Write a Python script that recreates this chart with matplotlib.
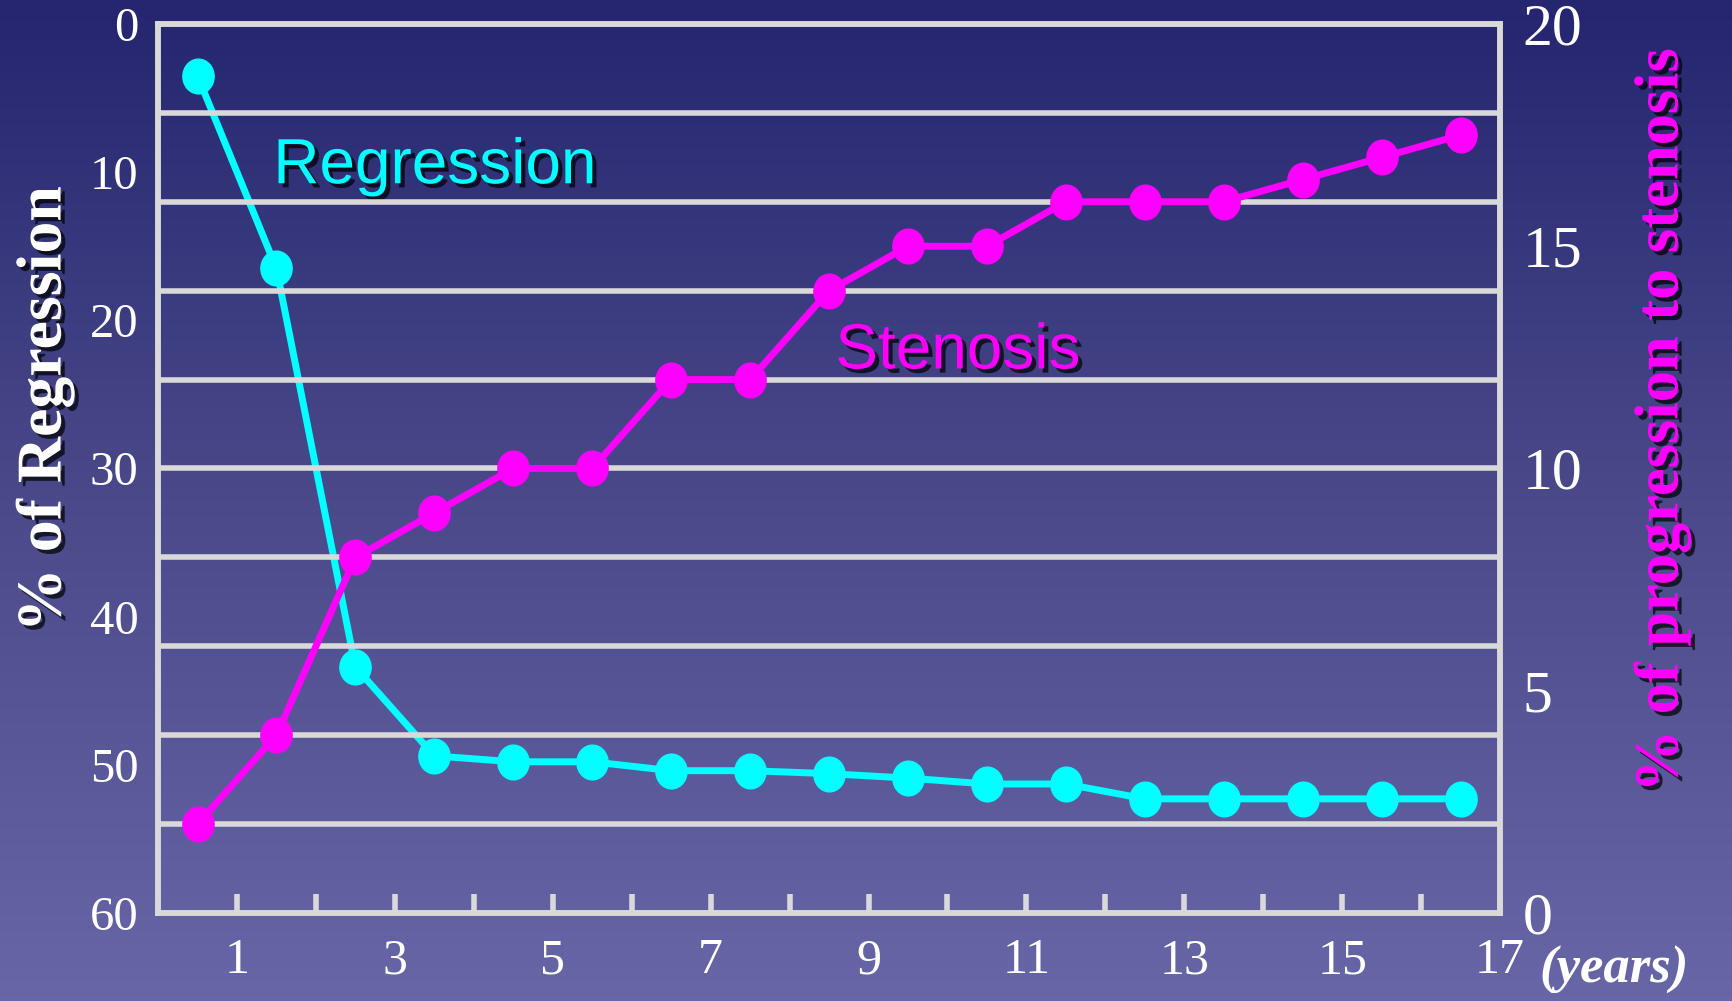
import numpy as np
import matplotlib
matplotlib.use("Agg")
import matplotlib.pyplot as plt
import matplotlib.patheffects as pe
from matplotlib.colors import LinearSegmentedColormap
from matplotlib.path import Path

# Follow-up years (mid-year points)
years = [0.5, 1.5, 2.5, 3.5, 4.5, 5.5, 6.5, 7.5, 8.5, 9.5, 10.5, 11.5, 12.5, 13.5, 14.5, 15.5, 16.5]
# % of regression (left axis, inverted)
regression = [3.5, 16.5, 43.4, 49.4, 49.8, 49.8, 50.4, 50.4, 50.6, 50.9, 51.3, 51.3, 52.3, 52.3, 52.3, 52.3, 52.3]
# % of progression to stenosis (right axis)
stenosis = [2, 4, 8, 9, 10, 10, 12, 12, 14, 15, 15, 16, 16, 16, 16.5, 17, 17.5]

x_ticks = list(range(1, 18))
x_labels = [str(t) if t % 2 == 1 else "" for t in x_ticks]
left_ticks = [0, 10, 20, 30, 40, 50, 60]
right_ticks = [0, 5, 10, 15, 20]

GRID = "#d9d9d9"
CYAN = "#00ffff"
MAGENTA = "#ff00ff"
serif = ["Liberation Serif", "DejaVu Serif"]
sans = ["Liberation Sans", "DejaVu Sans"]

shadow = [pe.SimplePatchShadow(offset=(3, -3), shadow_rgbFace="black", alpha=0.7), pe.Normal()]

# slightly tall ellipse for the data points
circ = Path.unit_circle()
oval = Path(circ.vertices * np.array([0.9, 1.0]), circ.codes)

fig = plt.figure(figsize=(17.33, 10.01), dpi=100)

# Slide background gradient
bg = fig.add_axes([0, 0, 1, 1], zorder=-10)
grad_cmap = LinearSegmentedColormap.from_list("bg", ["#252570", "#4a4a8a", "#6767a8"])
bg.imshow(np.linspace(0, 1, 256).reshape(-1, 1), aspect="auto", cmap=grad_cmap,
          extent=[0, 1, 0, 1])
bg.axis("off")

ax = fig.add_axes([0.0912, 0.088, 0.7744, 0.888])
ax.patch.set_alpha(0)
ax2 = ax.twinx()

ax.set_xlim(0, 17)
ax.set_ylim(60, 0)
ax2.set_ylim(0, 20)

# horizontal grid every 1/10 of the height
for g in np.arange(2, 20, 2):
    ax2.axhline(g, color=GRID, linewidth=4, zorder=1)

for a in (ax, ax2):
    for s in a.spines.values():
        s.set_color(GRID)
        s.set_linewidth(4)

ax.plot(years, regression, color=CYAN, linewidth=5, marker=oval,
        markersize=25, zorder=5)
ax2.plot(years, stenosis, color=MAGENTA, linewidth=5, marker=oval,
         markersize=25, zorder=5)

ax.set_xticks(x_ticks)
ax.set_xticklabels(x_labels, fontfamily=serif, fontsize=36, color="white")
ax.tick_params(axis="x", direction="in", length=14, width=4, color=GRID, pad=18)

ax.set_yticks(left_ticks)
ax.set_yticklabels([str(t) for t in left_ticks], fontfamily=serif, fontsize=35, color="white")
ax.tick_params(axis="y", length=0, pad=14)

ax2.set_yticks(right_ticks)
ax2.set_yticklabels([str(t) for t in right_ticks], fontfamily=serif, fontsize=43, color="white")
ax2.tick_params(axis="y", length=0, pad=16)

fig.text(0.026, 0.591, "% of Regression", rotation=90, ha="center", va="center",
         fontfamily=serif, fontweight="bold", fontsize=46, color="white",
         path_effects=shadow)
fig.text(0.959, 0.58, "% of progression to stenosis", rotation=90, ha="center", va="center",
         fontfamily=serif, fontweight="bold", fontsize=45, color=MAGENTA,
         path_effects=shadow)
fig.text(0.888, 0.031, "(years)", ha="left", va="center", fontfamily=serif,
         fontweight="bold", fontstyle="italic", fontsize=38, color="white")

ax.text(1.46, 9.6, "Regression", fontfamily=sans, fontsize=46, color=CYAN,
        ha="left", va="center", path_effects=shadow, zorder=6)
ax.text(8.58, 22.1, "Stenosis", fontfamily=sans, fontsize=46, color=MAGENTA,
        ha="left", va="center", path_effects=shadow, zorder=6)

fig.savefig("out.png", dpi=100)
